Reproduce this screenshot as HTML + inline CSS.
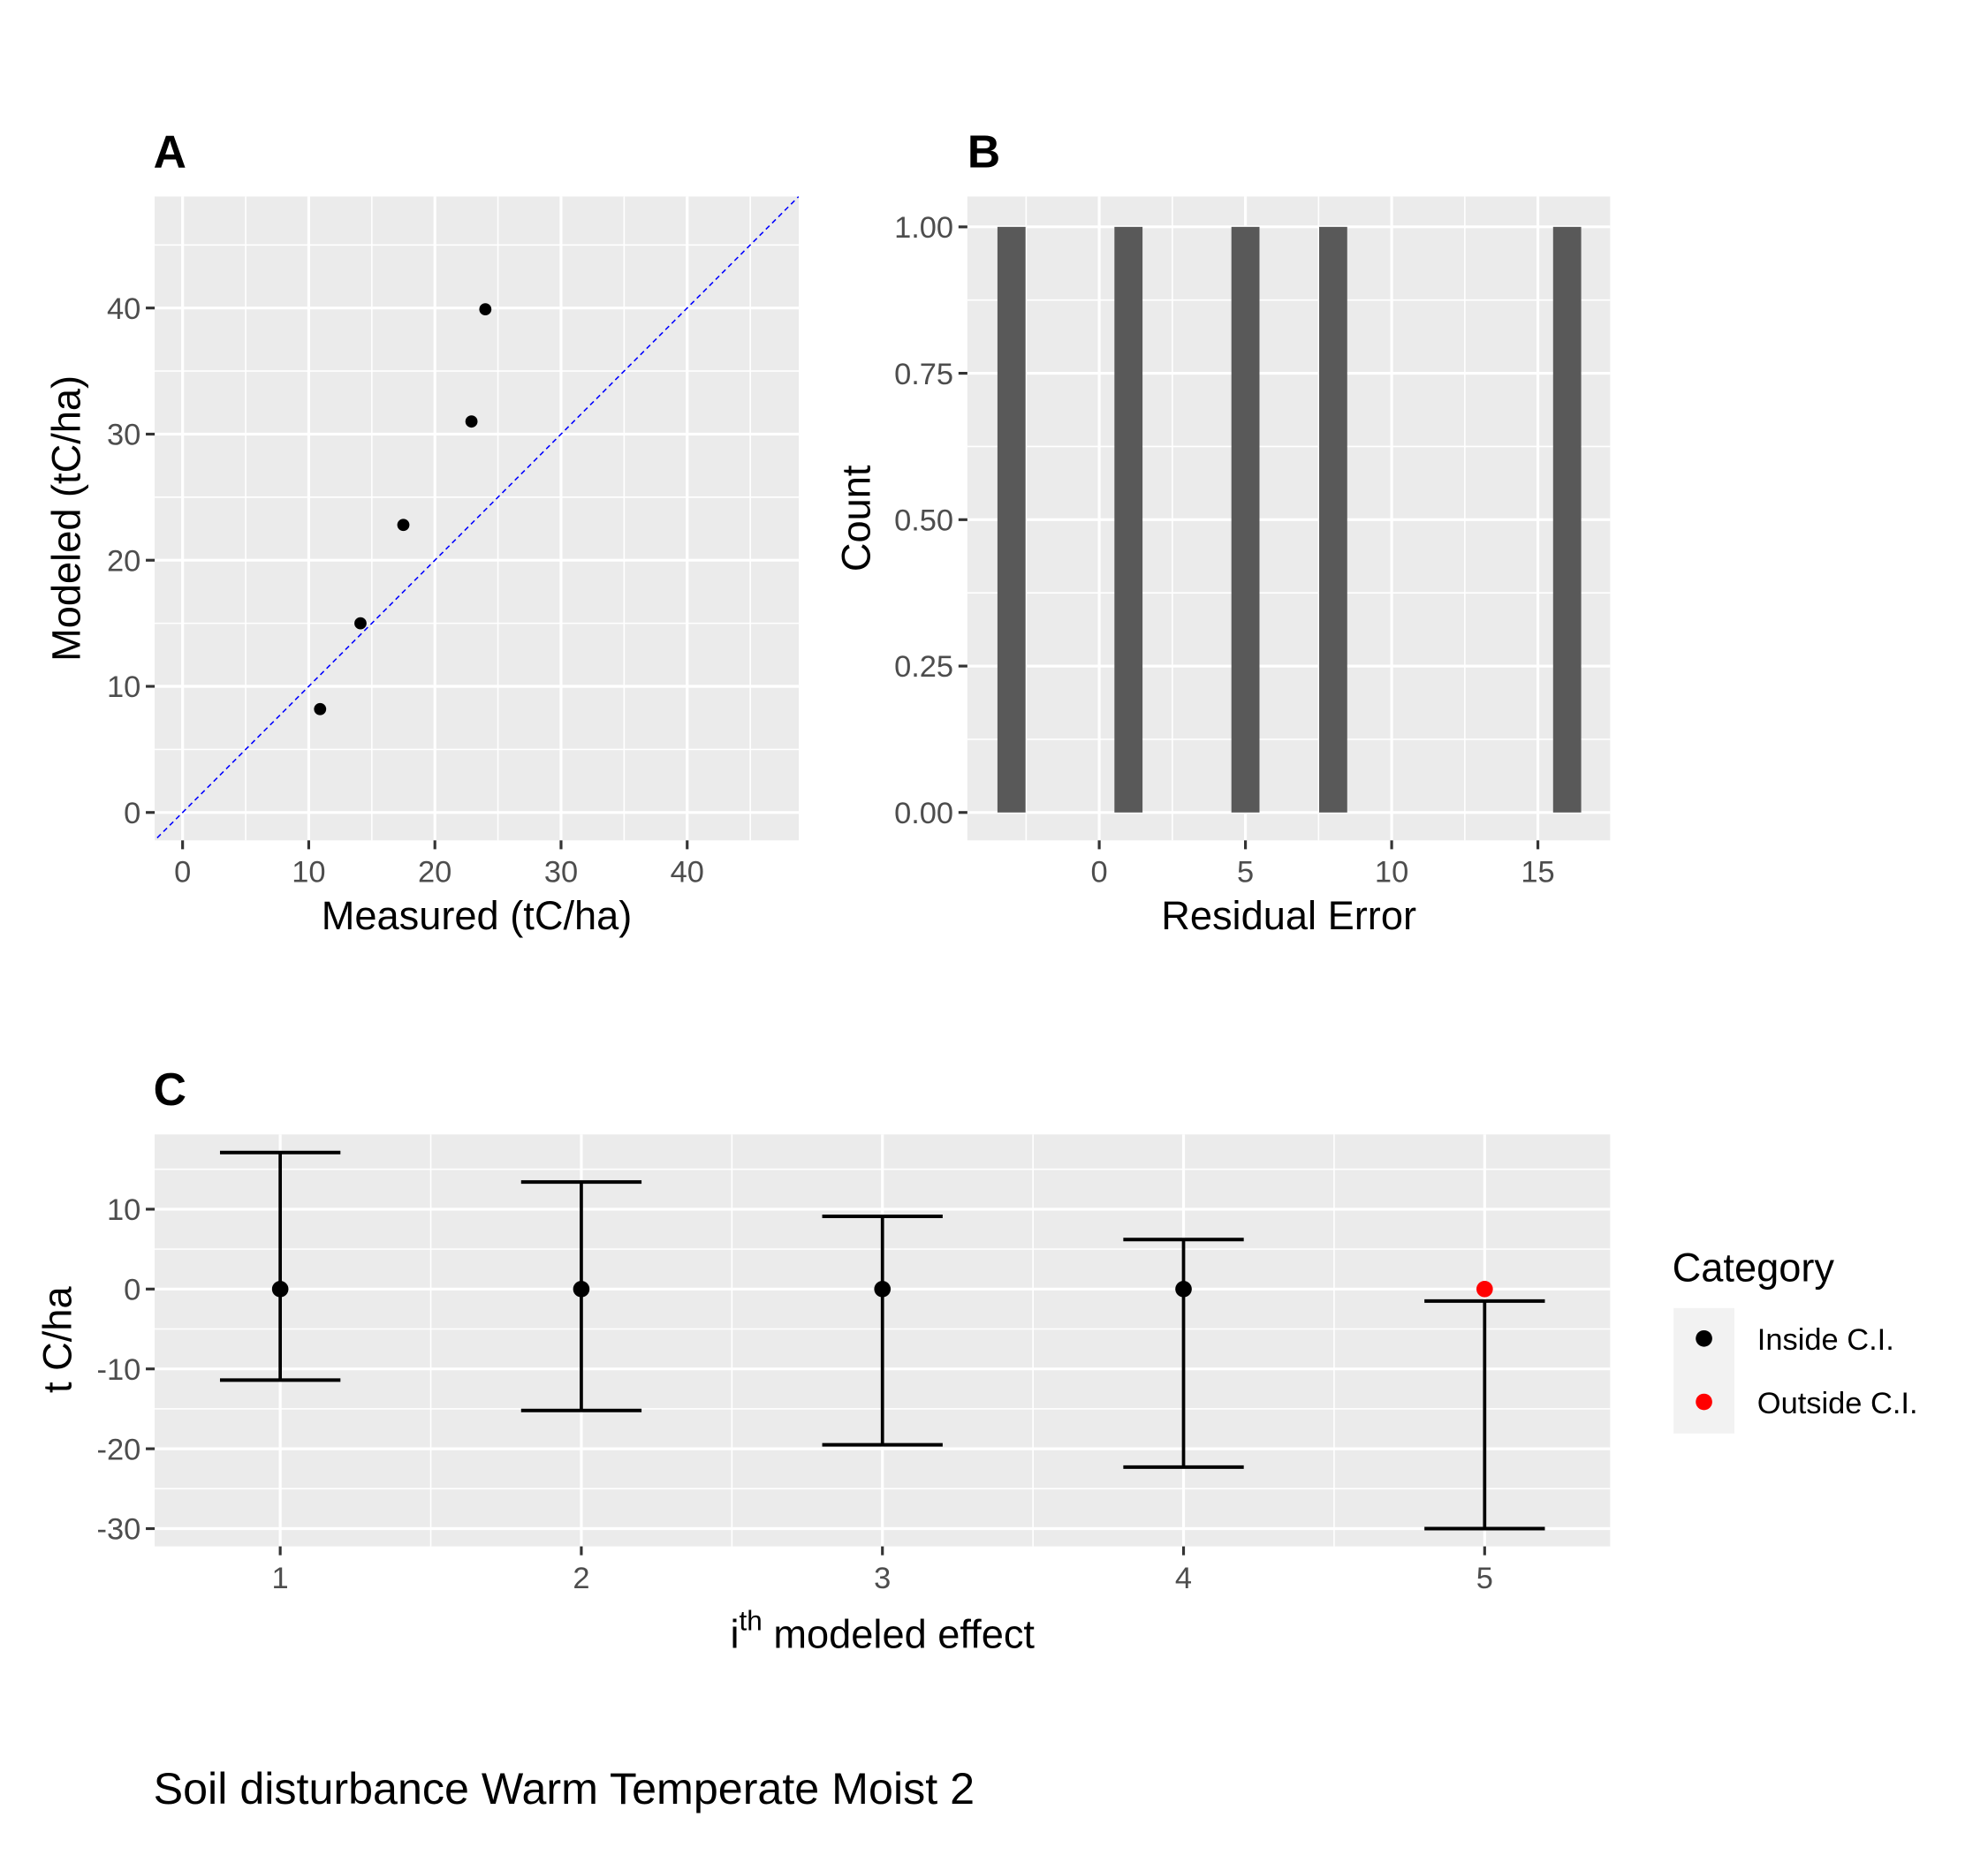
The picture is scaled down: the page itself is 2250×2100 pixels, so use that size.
<!DOCTYPE html>
<html><head><meta charset="utf-8"><style>
html,body{margin:0;padding:0;background:#fff;}
svg{display:block;font-family:"Liberation Sans",Arial,sans-serif;}
</style></head><body>
<svg id="chart" width="2250" height="2100" viewBox="0 0 1568 1463.5" xmlns="http://www.w3.org/2000/svg"></svg>
<script>
// Panel A data
const measured = [10.9, 14.1, 17.5, 22.9, 24.0];
const modeled = [8.2, 15.0, 22.8, 31.0, 39.9];
const aTicks = [0, 10, 20, 30, 40];
// Panel B data
const residualBins = [-3, 1, 5, 8, 16];
const residualCounts = [1, 1, 1, 1, 1];
const bXTicks = [0, 5, 10, 15];
const bYTicks = [0, 0.25, 0.5, 0.75, 1.0];
const bYTickLabels = ["0.00", "0.25", "0.50", "0.75", "1.00"];
// Panel C data
const effects = [1, 2, 3, 4, 5];
const effectValues = [0, 0, 0, 0, 0];
const upperCI = [17.1, 13.4, 9.1, 6.2, -1.5];
const lowerCI = [-11.4, -15.2, -19.5, -22.3, -30.0];
const categories = ["Inside C.I.", "Inside C.I.", "Inside C.I.", "Inside C.I.", "Outside C.I."];
const cYTicks = [10, 0, -10, -20, -30];

const NS = "http://www.w3.org/2000/svg";
const svg = document.getElementById("chart");
function mk(tag, attrs, parent) {
  const e = document.createElementNS(NS, tag);
  for (const k in attrs) e.setAttribute(k, attrs[k]);
  (parent || svg).appendChild(e);
  return e;
}
function txt(s, attrs, parent) { const t = mk("text", attrs, parent); t.textContent = s; return t; }
function lin(d0, d1, r0, r1) { return v => r0 + (v - d0) / (d1 - d0) * (r1 - r0); }
const GRAY = "#ebebeb", TICKC = "#4d4d4d";
const TF = 24, TITLEF = 31.5, TKL = 7, TKW = 2.2;

// ---------- Panel A ----------
{
  const L = 122, R = 630, T = 155, B = 663;
  const x = lin(0, 40, 144, 542), y = lin(0, 40, 641, 243);
  const g = mk("g", {});
  
  
  const bg = mk("rect", {x: L, y: T, width: R - L, height: B - T, fill: GRAY}, g);
  
  
  for (let v = -5; v <= 50; v += 5) {
    const major = v % 10 === 0;
    const px = x(v), py = y(v);
    if (px > L && px < R) mk("line", {x1: px, x2: px, y1: T, y2: B, stroke: "#fff", "stroke-width": major ? 2.2 : 1.1}, g);
    if (py > T && py < B) mk("line", {x1: L, x2: R, y1: py, y2: py, stroke: "#fff", "stroke-width": major ? 2.2 : 1.1}, g);
  }
  const clip = mk("clipPath", {id: "clipA"}, g);
  mk("rect", {x: L, y: T, width: R - L, height: B - T}, clip);
  const ref = mk("line", {x1: x(-5), y1: y(-5), x2: x(55), y2: y(55), stroke: "#0000ff", "stroke-width": 1.1, "stroke-dasharray": "4,3", "clip-path": "url(#clipA)"}, g);
  
  
  measured.forEach((m, i) => {
    const c = mk("circle", {cx: x(m), cy: y(modeled[i]), r: 4.8, fill: "#000"}, g);
    
    
  });
  aTicks.forEach(v => {
    mk("line", {x1: x(v), x2: x(v), y1: B, y2: B + TKL, stroke: "#333", "stroke-width": TKW}, g);
    const tx = txt(String(v), {x: x(v), y: B + 33, "text-anchor": "middle", "font-size": TF, fill: TICKC}, g);
    
    
    mk("line", {x1: L - TKL, x2: L, y1: y(v), y2: y(v), stroke: "#333", "stroke-width": TKW}, g);
    const ty = txt(String(v), {x: L - 11, y: y(v) + 8.5, "text-anchor": "end", "font-size": TF, fill: TICKC}, g);
    
    
  });
  const xt = txt("Measured (tC/ha)", {x: (L + R) / 2, y: 733, "text-anchor": "middle", "font-size": TITLEF}, g);
  
  
  const yt = txt("Modeled (tC/ha)", {x: 0, y: 0, "text-anchor": "middle", "font-size": TITLEF, transform: "translate(63,409) rotate(-90)"}, g);
  
  
  const lab = txt("A", {x: 121, y: 132, "font-size": 36, "font-weight": "bold"}, g);
  
  
}

// ---------- Panel B ----------
{
  const L = 763, R = 1270, T = 155, B = 663;
  const x = lin(0, 15, 867, 1213), y = lin(0, 1, 641, 179);
  const g = mk("g", {});
  
  
  const bg = mk("rect", {x: L, y: T, width: R - L, height: B - T, fill: GRAY}, g);
  
  
  for (let v = -2.5; v <= 17.5; v += 2.5) {
    const px = x(v);
    if (px > L && px < R) mk("line", {x1: px, x2: px, y1: T, y2: B, stroke: "#fff", "stroke-width": (v % 5 === 0) ? 2.2 : 1.1}, g);
  }
  for (let v = 0; v <= 1.0001; v += 0.125) {
    const major = Math.abs(v * 4 - Math.round(v * 4)) < 1e-6;
    mk("line", {x1: L, x2: R, y1: y(v), y2: y(v), stroke: "#fff", "stroke-width": major ? 2.2 : 1.1}, g);
  }
  residualBins.forEach((c, i) => {
    const r = mk("rect", {x: x(c - 0.48), y: y(residualCounts[i]), width: x(c + 0.48) - x(c - 0.48), height: y(0) - y(residualCounts[i]), fill: "#595959"}, g);
    
    
  });
  bXTicks.forEach(v => {
    mk("line", {x1: x(v), x2: x(v), y1: B, y2: B + TKL, stroke: "#333", "stroke-width": TKW}, g);
    const tx = txt(String(v), {x: x(v), y: B + 33, "text-anchor": "middle", "font-size": TF, fill: TICKC}, g);
    
    
  });
  bYTicks.forEach((v, i) => {
    mk("line", {x1: L - TKL, x2: L, y1: y(v), y2: y(v), stroke: "#333", "stroke-width": TKW}, g);
    const ty = txt(bYTickLabels[i], {x: L - 11, y: y(v) + 8.5, "text-anchor": "end", "font-size": TF, fill: TICKC}, g);
    
    
  });
  const xt = txt("Residual Error", {x: (L + R) / 2, y: 733, "text-anchor": "middle", "font-size": TITLEF}, g);
  
  
  const yt = txt("Count", {x: 0, y: 0, "text-anchor": "middle", "font-size": TITLEF, transform: "translate(686,409) rotate(-90)"}, g);
  
  
  const lab = txt("B", {x: 763, y: 132, "font-size": 36, "font-weight": "bold"}, g);
  
  
}

// ---------- Panel C ----------
{
  const L = 122, R = 1270, T = 895, B = 1220;
  const x = lin(1, 5, 221, 1171), y = lin(0, -30, 1017, 1206);
  const g = mk("g", {});
  
  
  const bg = mk("rect", {x: L, y: T, width: R - L, height: B - T, fill: GRAY}, g);
  
  
  for (let v = 1.5; v < 5; v += 1) mk("line", {x1: x(v), x2: x(v), y1: T, y2: B, stroke: "#fff", "stroke-width": 1.1}, g);
  effects.forEach(v => mk("line", {x1: x(v), x2: x(v), y1: T, y2: B, stroke: "#fff", "stroke-width": 2.2}, g));
  for (let v = 15; v >= -30; v -= 5) {
    const major = v % 10 === 0;
    mk("line", {x1: L, x2: R, y1: y(v), y2: y(v), stroke: "#fff", "stroke-width": major ? 2.2 : 1.1}, g);
  }
  effects.forEach((e, i) => {
    const eb = mk("g", {}, g);
    
    
    mk("line", {x1: x(e), x2: x(e), y1: y(upperCI[i]), y2: y(lowerCI[i]), stroke: "#000", "stroke-width": 2.6}, eb);
    mk("line", {x1: x(e - 0.2), x2: x(e + 0.2), y1: y(upperCI[i]), y2: y(upperCI[i]), stroke: "#000", "stroke-width": 2.8}, eb);
    mk("line", {x1: x(e - 0.2), x2: x(e + 0.2), y1: y(lowerCI[i]), y2: y(lowerCI[i]), stroke: "#000", "stroke-width": 2.8}, eb);
    const c = mk("circle", {cx: x(e), cy: y(effectValues[i]), r: 6.5, fill: categories[i] === "Inside C.I." ? "#000" : "#ff0000"}, g);
    
    
  });
  effects.forEach(v => {
    mk("line", {x1: x(v), x2: x(v), y1: B, y2: B + TKL, stroke: "#333", "stroke-width": TKW}, g);
    const tx = txt(String(v), {x: x(v), y: B + 33, "text-anchor": "middle", "font-size": TF, fill: TICKC}, g);
    
    
  });
  cYTicks.forEach(v => {
    mk("line", {x1: L - TKL, x2: L, y1: y(v), y2: y(v), stroke: "#333", "stroke-width": TKW}, g);
    const ty = txt(String(v), {x: L - 11, y: y(v) + 8.5, "text-anchor": "end", "font-size": TF, fill: TICKC}, g);
    
    
  });
  const xt = txt("", {x: 696, y: 1300, "text-anchor": "middle", "font-size": TITLEF}, g);
  
  
  const s1 = mk("tspan", {}, xt); s1.textContent = "i";
  const s2 = mk("tspan", {dy: -14, "font-size": 22}, xt); s2.textContent = "th";
  const s3 = mk("tspan", {dy: 14}, xt); s3.textContent = " modeled effect";
  const yt = txt("t C/ha", {x: 0, y: 0, "text-anchor": "middle", "font-size": TITLEF, transform: "translate(56,1057) rotate(-90)"}, g);
  
  
  const lab = txt("C", {x: 121, y: 872, "font-size": 36, "font-weight": "bold"}, g);
  
  

  // legend
  const lg = mk("g", {}, g);
  
  
  const lt = txt("Category", {x: 1319, y: 1011, "font-size": TITLEF}, lg);
  
  
  mk("rect", {x: 1320, y: 1032, width: 48, height: 99, fill: "#f2f2f2"}, lg);
  const legItems = ["Inside C.I.", "Outside C.I."];
  const legColors = ["#000", "#ff0000"];
  legItems.forEach((s, i) => {
    const e = mk("g", {}, lg);
    
    
    mk("circle", {cx: 1344, cy: 1056 + i * 50, r: 6.5, fill: legColors[i]}, e);
    txt(s, {x: 1386, y: 1065 + i * 50, "font-size": TF}, e);
  });
}

const cap = txt("Soil disturbance Warm Temperate Moist 2", {x: 121, y: 1423, "font-size": 35});


</script>
</body></html>
